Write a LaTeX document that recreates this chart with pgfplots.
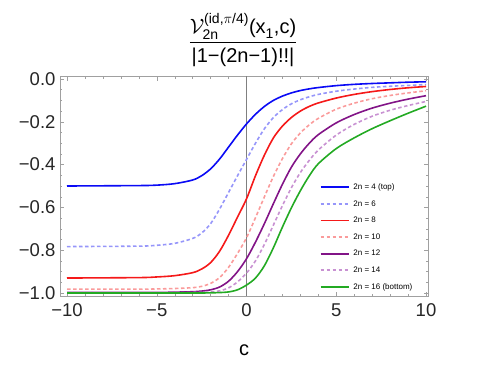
\documentclass[border=0pt]{standalone}
\usepackage{fontspec}
\setmainfont{Liberation Sans}
\usepackage{amsmath}
\usepackage{pgfplots}
\pgfplotsset{compat=1.18}

\definecolor{framegray}{RGB}{160,160,160}
\definecolor{cfour}{RGB}{10,10,245}
\definecolor{csix}{RGB}{150,150,250}
\definecolor{ceight}{RGB}{245,25,25}
\definecolor{cten}{RGB}{250,155,155}
\definecolor{ctwelve}{RGB}{130,20,135}
\definecolor{cfourteen}{RGB}{200,145,210}
\definecolor{csixteen}{RGB}{35,170,35}

\begin{document}
\begin{tikzpicture}
\path[use as bounding box] (-60pt,-74pt) rectangle (419pt,296pt);
\begin{axis}[
    at={(0pt,0pt)}, anchor=south west,
    scale only axis,
    width=368pt, height=220pt,
    xmin=-10.39, xmax=10.11,
    ymin=-1.014, ymax=0.014,
    axis line style={framegray},
    every tick/.style={framegray},
    major tick length=4.5pt, minor tick length=2.5pt,
    xtick={-10,-5,0,5,10},
    xticklabels={−10,−5,0,5,10},
    ytick={-1,-0.8,-0.6,-0.4,-0.2,0},
    yticklabels={−1.0,−0.8,−0.6,−0.4,−0.2,0.0},
    minor x tick num=4,
    minor y tick num=3,
    tick label style={font=\fontsize{18.5}{20}\selectfont, text=black!85},
    xticklabel style={yshift=-4pt},
    yticklabel style={xshift=-1pt},
    xlabel={c},
    xlabel style={font=\fontsize{20}{22}\selectfont, at={(axis description cs:0.5,-0.245)}, anchor=center},
    legend style={draw=none, fill=none, inner sep=0pt,
        at={(axis description cs:0.705,0.512)}, anchor=north west,
        font=\fontsize{8}{9.6}\selectfont,
        nodes={inner sep=0pt, text height=6pt, text depth=1.5pt},
        row sep=9.1pt, column sep=4pt},
    legend cell align=left,
    legend image code/.code={%
        \draw[mark repeat=2,mark phase=2,#1,line width=1.8pt]
        plot coordinates {(0pt,0pt) (14pt,0pt) (28pt,0pt)};},
    every axis plot/.append style={line width=1.6pt, smooth},
    clip=true,
]
\draw[gray, line width=0.6pt] (axis cs:0,-1.014) -- (axis cs:0,0.014);

\addplot[cfour] coordinates {(-10,-0.500) (-6,-0.498) (-5,-0.496) (-4,-0.489) (-3,-0.472) (-2.5,-0.452) (-2,-0.420) (-1.5,-0.374) (-1,-0.318) (-0.5,-0.262) (0,-0.210) (0.5,-0.165) (1,-0.128) (1.5,-0.100) (2,-0.080) (2.5,-0.065) (3,-0.054) (3.5,-0.046) (4,-0.040) (5,-0.031) (6,-0.025) (7,-0.021) (8,-0.018) (9,-0.015) (10,-0.013)};
\addlegendentry{2n = 4 (top)}

\addplot[csix, dash pattern=on 3.5pt off 2.5pt] coordinates {(-10,-0.783) (-6,-0.781) (-5,-0.777) (-4,-0.768) (-3,-0.745) (-2.5,-0.720) (-2,-0.676) (-1.5,-0.608) (-1,-0.530) (-0.5,-0.452) (0,-0.376) (0.5,-0.300) (1,-0.232) (1.5,-0.180) (2,-0.143) (2.5,-0.116) (3,-0.097) (3.5,-0.083) (4,-0.072) (5,-0.057) (6,-0.047) (7,-0.039) (8,-0.034) (9,-0.030) (10,-0.026)};
\addlegendentry{2n = 6}

\addplot[ceight] coordinates {(-10,-0.930) (-6,-0.928) (-5,-0.925) (-4,-0.919) (-3,-0.905) (-2.5,-0.888) (-2,-0.858) (-1.5,-0.805) (-1,-0.730) (-0.5,-0.645) (0,-0.560) (0.5,-0.452) (1,-0.355) (1.5,-0.275) (2,-0.220) (2.5,-0.180) (3,-0.150) (3.5,-0.128) (4,-0.112) (5,-0.089) (6,-0.072) (7,-0.059) (8,-0.049) (9,-0.041) (10,-0.035)};
\addlegendentry{2n = 8}

\addplot[cten, dash pattern=on 3.5pt off 2.5pt] coordinates {(-10,-0.982) (-6,-0.982) (-5,-0.981) (-4,-0.979) (-3,-0.975) (-2.5,-0.969) (-2,-0.955) (-1.5,-0.928) (-1,-0.880) (-0.5,-0.815) (0,-0.742) (0.5,-0.648) (1,-0.550) (1.5,-0.455) (2,-0.372) (2.5,-0.303) (3,-0.252) (3.5,-0.214) (4,-0.184) (5,-0.141) (6,-0.113) (7,-0.092) (8,-0.077) (9,-0.065) (10,-0.055)};
\addlegendentry{2n = 10}

\addplot[ctwelve] coordinates {(-10,-0.997) (-5,-0.997) (-4,-0.996) (-3,-0.994) (-2.5,-0.991) (-2,-0.985) (-1.5,-0.972) (-1,-0.945) (-0.5,-0.900) (0,-0.840) (0.5,-0.762) (1,-0.675) (1.5,-0.582) (2,-0.492) (2.5,-0.412) (3,-0.350) (3.5,-0.300) (4,-0.260) (5,-0.205) (6,-0.166) (7,-0.136) (8,-0.113) (9,-0.094) (10,-0.078)};
\addlegendentry{2n = 12}

\addplot[cfourteen, dash pattern=on 3.5pt off 2.5pt] coordinates {(-10,-0.999) (-4,-0.999) (-3,-0.998) (-2,-0.995) (-1.5,-0.990) (-1,-0.976) (-0.5,-0.948) (0,-0.907) (0.5,-0.850) (1,-0.772) (1.5,-0.682) (2,-0.592) (2.5,-0.508) (3,-0.437) (3.5,-0.380) (4,-0.332) (5,-0.262) (6,-0.212) (7,-0.174) (8,-0.146) (9,-0.124) (10,-0.105)};
\addlegendentry{2n = 14}

\addplot[csixteen] coordinates {(-10,-1.000) (-3,-1.000) (-2,-0.999) (-1.5,-0.998) (-1,-0.995) (-0.5,-0.985) (0,-0.963) (0.5,-0.930) (1,-0.872) (1.5,-0.788) (2,-0.692) (2.5,-0.602) (3,-0.522) (3.5,-0.452) (4,-0.396) (5,-0.325) (6,-0.275) (7,-0.232) (8,-0.195) (9,-0.160) (10,-0.127)};
\addlegendentry{2n = 16 (bottom)}
\end{axis}
\node at (183pt,256pt) {\fontsize{20}{24}\selectfont
  $\dfrac{\mathcal{V}_{\text{2n}}^{\text{(id,}\pi\text{/4)}}\text{(x}_{\text{1}}\text{,c)}}{\text{|1−(2n−1)!!|}}$};
\end{tikzpicture}
\end{document}
